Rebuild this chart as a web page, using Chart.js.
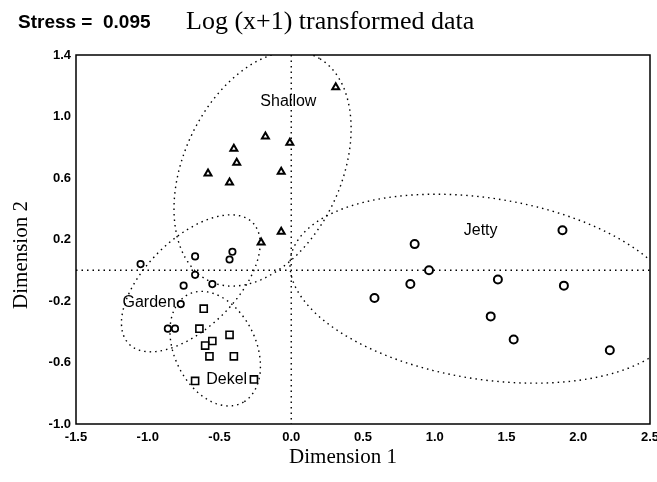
<!DOCTYPE html>
<html>
<head>
<meta charset="utf-8">
<script src="https://cdn.jsdelivr.net/npm/chart.js@4/dist/chart.umd.min.js"></script>
<style>
  body { margin: 0; background: #fff; }
</style>
</head>
<body>
<canvas id="chart" width="657" height="482"></canvas>
<script>
// NMDS scores
const shallowX = [0.31, -0.18, -0.01, -0.40, -0.38, -0.58, -0.43, -0.07, -0.07, -0.21];
const shallowY = [1.19, 0.87, 0.83, 0.79, 0.70, 0.63, 0.57, 0.64, 0.25, 0.18];
const gardenX = [-1.05, -0.67, -0.41, -0.43, -0.67, -0.75, -0.55, -0.77, -0.86, -0.81];
const gardenY = [0.04, 0.09, 0.12, 0.07, -0.03, -0.10, -0.09, -0.22, -0.38, -0.38];
const dekelX = [-0.61, -0.64, -0.43, -0.55, -0.60, -0.57, -0.40, -0.67, -0.26];
const dekelY = [-0.25, -0.38, -0.42, -0.46, -0.49, -0.56, -0.56, -0.72, -0.71];
const jettyX = [0.86, 0.96, 0.83, 0.58, 1.89, 1.44, 1.90, 1.39, 1.55, 2.22];
const jettyY = [0.17, 0.00, -0.09, -0.18, 0.26, -0.06, -0.10, -0.30, -0.45, -0.52];

// group names, label anchors and the hand drawn ellipses (data units)
const groupNames = ['Shallow', 'Garden', 'Dekel', 'Jetty'];
const labelX = [-0.02, -0.99, -0.45, 1.32];
const labelY = [1.10, -0.21, -0.71, 0.26];
const ellipseCX = [-0.20, -0.70, -0.53, 1.35];
const ellipseCY = [0.66, -0.085, -0.51, -0.12];
const ellipseA = [0.82, 0.585, 0.40, 1.37];
const ellipseB = [0.54, 0.30, 0.28, 0.59];
const ellipseAngle = [61, 41, -59.5, -8];

const pts = (xs, ys) => xs.map((x, i) => ({ x: x, y: ys[i] }));

const ink = '#000';
const dots = [1.5, 4];

const overlay = {
  id: 'overlay',
  beforeDatasetsDraw(chart) {
    const { ctx, chartArea: a } = chart;
    const sx = chart.scales.x, sy = chart.scales.y;
    ctx.save();
    ctx.beginPath();
    ctx.rect(a.left, a.top, a.right - a.left, a.bottom - a.top);
    ctx.clip();
    ctx.strokeStyle = ink;
    ctx.lineWidth = 1.4;
    ctx.setLineDash(dots);
    // zero lines
    ctx.beginPath();
    ctx.moveTo(sx.getPixelForValue(0), a.top);
    ctx.lineTo(sx.getPixelForValue(0), a.bottom);
    ctx.moveTo(a.left, sy.getPixelForValue(0));
    ctx.lineTo(a.right, sy.getPixelForValue(0));
    ctx.stroke();
    // group ellipses
    for (let k = 0; k < ellipseCX.length; k++) {
      const th = ellipseAngle[k] * Math.PI / 180;
      ctx.beginPath();
      for (let i = 0; i <= 120; i++) {
        const t = i / 120 * Math.PI * 2;
        const ex = ellipseA[k] * Math.cos(t), ey = ellipseB[k] * Math.sin(t);
        const x = ellipseCX[k] + ex * Math.cos(th) - ey * Math.sin(th);
        const y = ellipseCY[k] + ex * Math.sin(th) + ey * Math.cos(th);
        const px = sx.getPixelForValue(x), py = sy.getPixelForValue(y);
        if (i === 0) ctx.moveTo(px, py); else ctx.lineTo(px, py);
      }
      ctx.stroke();
    }
    ctx.restore();
  },
  afterDatasetsDraw(chart) {
    const { ctx, chartArea: a } = chart;
    const sx = chart.scales.x, sy = chart.scales.y;
    ctx.save();
    // frame
    ctx.strokeStyle = ink;
    ctx.lineWidth = 1.5;
    ctx.strokeRect(a.left, a.top, a.right - a.left, a.bottom - a.top);
    // group labels
    ctx.fillStyle = ink;
    ctx.font = '16px "Liberation Sans", Arial, sans-serif';
    ctx.textAlign = 'center';
    ctx.textBaseline = 'middle';
    groupNames.forEach((n, i) => {
      ctx.fillText(n, sx.getPixelForValue(labelX[i]), sy.getPixelForValue(labelY[i]));
    });
    // titles
    ctx.textBaseline = 'alphabetic';
    ctx.textAlign = 'left';
    ctx.font = 'bold 19px "Liberation Sans", Arial, sans-serif';
    ctx.fillText('Stress =  0.095', 18, 28);
    ctx.font = '26px "Liberation Serif", "Times New Roman", serif';
    ctx.fillText('Log (x+1) transformed data', 186, 29);
    ctx.textAlign = 'center';
    ctx.font = '21px "Liberation Serif", "Times New Roman", serif';
    ctx.fillText('Dimension 1', a.left + 267, 463);
    ctx.translate(27, a.top + 200);
    ctx.rotate(-Math.PI / 2);
    ctx.fillText('Dimension 2', 0, 0);
    ctx.restore();
  }
};

const tickFont = { family: '"Liberation Sans", Arial, sans-serif', size: 13, weight: 'bold' };

new Chart(document.getElementById('chart'), {
  type: 'scatter',
  data: {
    datasets: [
      {
        label: 'Shallow',
        data: pts(shallowX, shallowY),
        pointStyle: 'triangle',
        pointRadius: 4,
        borderWidth: 2,
        borderColor: ink,
        backgroundColor: '#fff',
      },
      {
        label: 'Garden',
        data: pts(gardenX, gardenY),
        pointStyle: 'circle',
        pointRadius: 3.2,
        borderWidth: 1.7,
        borderColor: ink,
        backgroundColor: '#fff',
      },
      {
        label: 'Dekel',
        data: pts(dekelX, dekelY),
        pointStyle: 'rect',
        pointRadius: 5,
        borderWidth: 1.6,
        borderColor: ink,
        backgroundColor: '#fff',
      },
      {
        label: 'Jetty',
        data: pts(jettyX, jettyY),
        pointStyle: 'circle',
        pointRadius: 4,
        borderWidth: 2,
        borderColor: ink,
        backgroundColor: '#fff',
      },
    ],
  },
  options: {
    responsive: false,
    animation: false,
    devicePixelRatio: 1,
    layout: { padding: { top: 55, right: 7, left: 0, bottom: 0 } },
    plugins: {
      legend: { display: false },
      tooltip: { enabled: false },
    },
    scales: {
      x: {
        type: 'linear',
        min: -1.5,
        max: 2.5,
        ticks: {
          stepSize: 0.5,
          color: ink,
          font: tickFont,
          padding: 6,
          callback: (v) => v.toFixed(1),
        },
        grid: { display: false, drawTicks: false, tickLength: 0 },
        border: { display: false },
        afterFit: (s) => { s.height = 58; s.paddingLeft = 0; s.paddingRight = 0; },
      },
      y: {
        type: 'linear',
        min: -1.0,
        max: 1.4,
        ticks: {
          stepSize: 0.4,
          color: ink,
          font: tickFont,
          padding: 5,
          callback: (v) => v.toFixed(1),
        },
        grid: { display: false, drawTicks: false, tickLength: 0 },
        border: { display: false },
        afterFit: (s) => { s.width = 76; s.paddingTop = 0; s.paddingBottom = 0; },
      },
    },
  },
  plugins: [overlay],
});
</script>
</body>
</html>
